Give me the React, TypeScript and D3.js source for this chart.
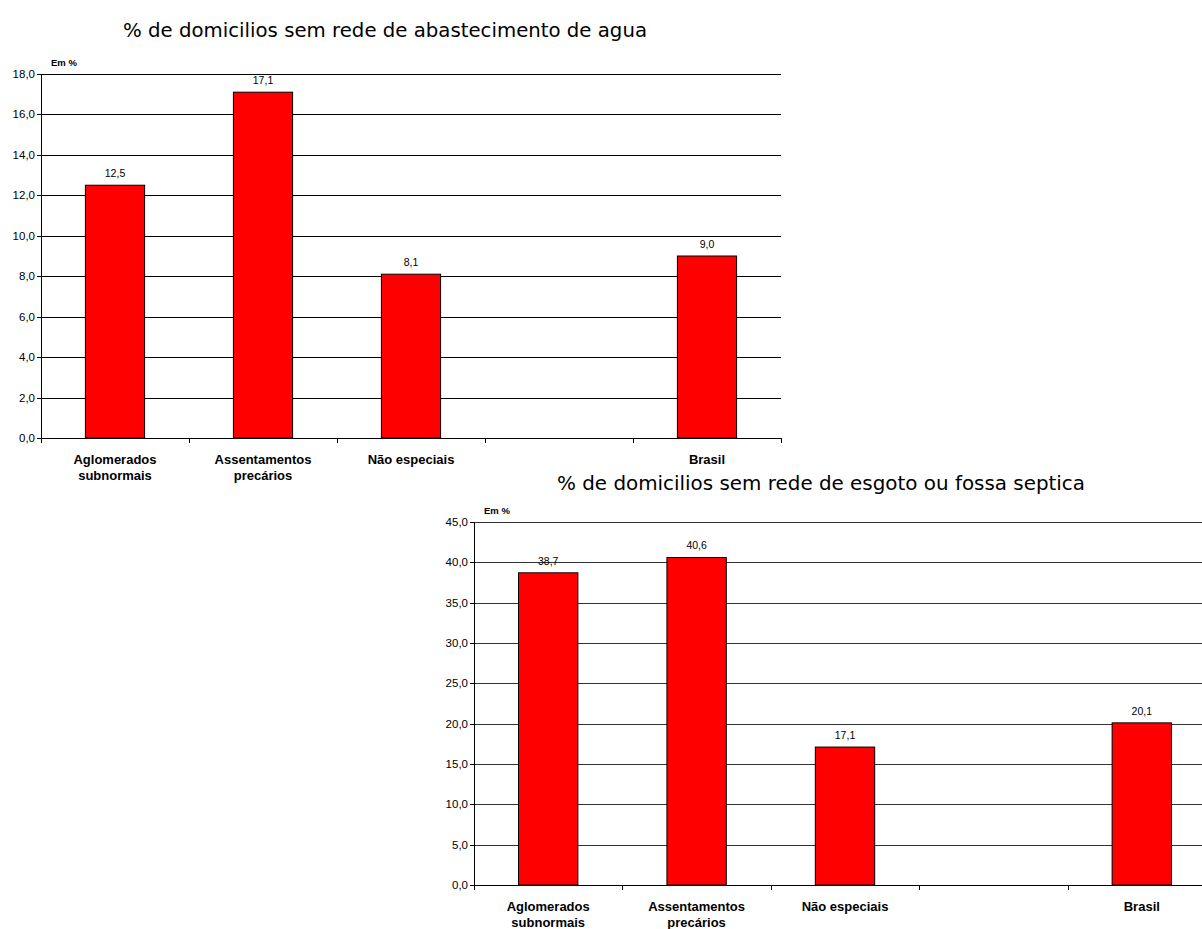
import React from "react";
import * as d3 from "d3";

const categories = ["Aglomerados\nsubnormais", "Assentamentos\nprecários", "Não especiais", "", "Brasil"];
const waterValues: (number | null)[] = [12.5, 17.1, 8.1, null, 9.0];
const sewerValues: (number | null)[] = [38.7, 40.6, 17.1, null, 20.1];
const waterTicks = [0, 2, 4, 6, 8, 10, 12, 14, 16, 18];
const sewerTicks = [0, 5, 10, 15, 20, 25, 30, 35, 40, 45];
const waterTitle = "% de domicilios sem rede de abastecimento de agua";
const sewerTitle = "% de domicilios sem rede de esgoto ou fossa septica";
const unitLabel = "Em %";

const fmt = (v: number) => v.toFixed(1).replace(".", ",");

type PanelProps = {
  values: (number | null)[];
  ticks: number[];
  title: string;
  x0: number;
  x1: number;
  yTop: number;
  yBottom: number;
  titleX: number;
  titleY: number;
  titleLen: number;
  gridColor: string;
};

function Panel({ values, ticks, title, x0, x1, yTop, yBottom, titleX, titleY, titleLen, gridColor }: PanelProps) {
  const x = d3.scaleBand<number>().domain(d3.range(categories.length)).range([x0, x1]).paddingInner(0).paddingOuter(0);
  const y = d3.scaleLinear().domain([0, ticks[ticks.length - 1]]).range([yBottom, yTop]);
  const bw = x.bandwidth() * 0.4;
  const sans = "'Liberation Sans', Arial, sans-serif";
  return (
    <g>
      <text x={titleX} y={titleY} textAnchor="middle" fontFamily="'DejaVu Sans', Tahoma, sans-serif" fontSize={19} fill="#000" textLength={titleLen} lengthAdjust="spacingAndGlyphs">
        {title}
      </text>
      <text x={x0 + 10} y={yTop - 8} fontFamily={sans} fontSize={9.5} fontWeight="bold" fill="#000">
        {unitLabel}
      </text>
      {ticks.map((t) => (
        <g key={t}>
          {t > 0 && <line x1={x0} x2={x1} y1={Math.round(y(t)) + 0.5} y2={Math.round(y(t)) + 0.5} stroke={gridColor} strokeWidth={1} />}
          <line x1={x0 - 4} x2={x0} y1={Math.round(y(t)) + 0.5} y2={Math.round(y(t)) + 0.5} stroke="#000" />
          <text x={x0 - 6} y={y(t) + 4} textAnchor="end" fontFamily={sans} fontSize={11.5} fill="#000">
            {fmt(t)}
          </text>
        </g>
      ))}
      {values.map((v, i) =>
        v == null ? null : (
          <g key={i}>
            <rect
              x={x(i)! + (x.bandwidth() - bw) / 2}
              y={y(v)}
              width={bw}
              height={yBottom - y(v)}
              fill="#ff0000"
              stroke="#000"
              strokeWidth={1}
            />
            <text x={x(i)! + x.bandwidth() / 2} y={y(v) - 8} textAnchor="middle" fontFamily={sans} fontSize={10.5} fill="#000">
              {fmt(v)}
            </text>
          </g>
        )
      )}
      <line x1={x0 + 0.5} x2={x0 + 0.5} y1={yTop} y2={yBottom} stroke="#000" />
      <line x1={x0} x2={x1} y1={Math.round(yBottom) + 0.5} y2={Math.round(yBottom) + 0.5} stroke="#000" />
      {d3.range(categories.length + 1).map((i) => {
        const xx = Math.round(x0 + i * x.bandwidth()) + 0.5;
        return <line key={i} x1={xx} x2={xx} y1={yBottom} y2={yBottom + 5} stroke="#000" />;
      })}
      {categories.map((c, i) =>
        c.split("\n").map((line, j) => (
          <text
            key={i + "-" + j}
            x={x(i)! + x.bandwidth() / 2}
            y={yBottom + 26 + j * 16}
            textAnchor="middle"
            fontFamily={sans}
            fontSize={13}
            fontWeight="bold"
            fill="#000"
          >
            {line}
          </text>
        ))
      )}
    </g>
  );
}

export default function App() {
  return (
    <svg
      width={1202}
      height={929}
      style={{ position: "absolute", left: 0, top: 0, display: "block", background: "#fff" }}
    >
      <rect width={1202} height={929} fill="#fff" />
      <Panel
        values={waterValues}
        ticks={waterTicks}
        title={waterTitle}
        x0={41}
        x1={781}
        yTop={74}
        yBottom={438}
        titleX={385}
        titleY={37}
        titleLen={524}
        gridColor="#000"
      />
      <Panel
        values={sewerValues}
        ticks={sewerTicks}
        title={sewerTitle}
        x0={474}
        x1={1216}
        yTop={522}
        yBottom={885}
        titleX={821}
        titleY={490}
        titleLen={528}
        gridColor="#333"
      />
    </svg>
  );
}
